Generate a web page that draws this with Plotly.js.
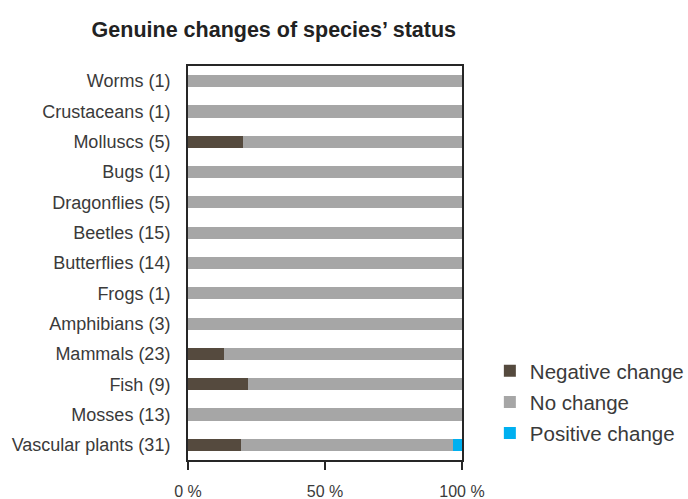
<!DOCTYPE html>
<html>
<head>
<meta charset="utf-8">
<script src="https://cdn.plot.ly/plotly-3.0.1.min.js"></script>
<style>html,body{margin:0;padding:0;background:#fff;}#chart{width:688px;height:499px;}</style>
</head>
<body>
<div id="chart"></div>
<script>
const categories = ["Worms (1)", "Crustaceans (1)", "Molluscs (5)", "Bugs (1)", "Dragonflies (5)", "Beetles (15)", "Butterflies (14)", "Frogs (1)", "Amphibians (3)", "Mammals (23)", "Fish (9)", "Mosses (13)", "Vascular plants (31)"];
const negativeChange = [0, 0, 20, 0, 0, 0, 0, 0, 0, 13, 22, 0, 19.4];
const noChange = [100, 100, 80, 100, 100, 100, 100, 100, 100, 87, 78, 100, 77.4];
const positiveChange = [0, 0, 0, 0, 0, 0, 0, 0, 0, 0, 0, 0, 3.2];
const seriesNames = ["Negative change", "No change", "Positive change"];
const xTickVals = [0, 50, 100];
const xTickText = ["0 %", "50 %", "100 %"];

const font = "Liberation Sans, Arial, sans-serif";
const colors = ["#554a3e", "#a6a6a6", "#00b0f0"];
const series = [negativeChange, noChange, positiveChange];

const data = series.map((vals, i) => ({
  type: "bar",
  orientation: "h",
  name: seriesNames[i],
  legendgroup: "g" + i,
  y: categories,
  x: vals,
  marker: {color: colors[i], line: {width: 0}},
  hoverinfo: "skip"
}));

const layout = {
  width: 688, height: 499,
  margin: {l: 188, r: 226, t: 66, b: 39},
  paper_bgcolor: "#fff", plot_bgcolor: "#fff",
  barmode: "stack",
  bargap: 0.6,
  title: {
    text: "Genuine changes of species\u2019 status",
    font: {family: font, size: 21.5, color: "#222", weight: "bold"},
    xref: "container", x: 0.398, xanchor: "center",
    yref: "container", y: 0.94, yanchor: "middle"
  },
  xaxis: {
    range: [0, 100],
    tickvals: xTickVals, ticktext: xTickText,
    ticks: "outside", ticklen: 8, tickwidth: 2, tickcolor: "#262626",
    showline: true, linecolor: "#262626", linewidth: 2, mirror: true,
    showgrid: false, zeroline: false,
    automargin: false,
    ticklabelstandoff: 8,
    tickfont: {family: font, size: 16, color: "#3a3a3a"},
    fixedrange: true
  },
  yaxis: {
    type: "category",
    autorange: "reversed",
    showline: true, linecolor: "#262626", linewidth: 2, mirror: true,
    showgrid: false, zeroline: false, ticks: "",
    automargin: false,
    ticklabelstandoff: 12,
    tickfont: {family: font, size: 18, color: "#3a3a3a"},
    fixedrange: true
  },
  showlegend: true,
  legend: {
    xref: "container", x: 0.712, xanchor: "left",
    yref: "container", y: 0.2966, yanchor: "top",
    traceorder: "grouped",
    tracegroupgap: 1.5,
    font: {family: font, size: 20.5, color: "#3a3a3a"},
    bgcolor: "rgba(0,0,0,0)"
  }
};

Plotly.newPlot("chart", data, layout, {displayModeBar: false, staticPlot: true});
</script>
</body>
</html>
